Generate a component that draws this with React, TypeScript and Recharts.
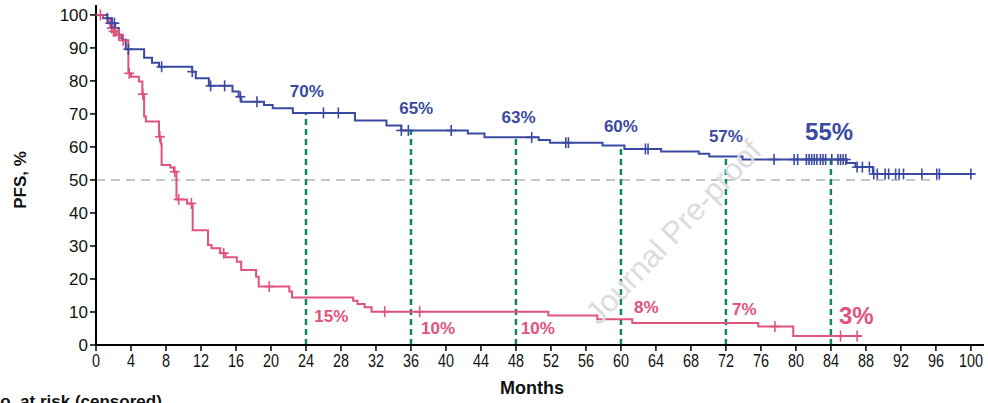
import React from 'react';
import {
  ComposedChart,
  Line,
  Scatter,
  XAxis,
  YAxis,
  ReferenceLine,
  ReferenceDot,
} from 'recharts';

const BLUE = '#3a4aa2';
const RED = '#e0537a';
const GREEN = '#13875a';
const FONT = '"Liberation Sans", Arial, Helvetica, sans-serif';

// Kaplan-Meier steps, [month, PFS %]
const blueSteps: [number, number][] = [
  [0, 100], [1.3, 99], [1.8, 97.5], [2.2, 96], [2.6, 94], [3.0, 92.5], [3.4, 89.6],
  [5.5, 87], [6.4, 85.5], [7.2, 84.3], [11.0, 82.8], [11.4, 80.8], [12.9, 78.5],
  [15.6, 76.8], [16.3, 75.2], [16.6, 73.7], [19.2, 72.7], [20.2, 71.7], [22.5, 70.3],
  [29.6, 68], [33.2, 66.5], [34.9, 65], [42.5, 64.1], [44.4, 62.9], [50.6, 62.1],
  [51.9, 61.3], [57.9, 60.4], [60.4, 59.4], [64.6, 58.6], [68.9, 57.9], [70.1, 57.1],
  [73.9, 56.2], [85.8, 55.1], [86.8, 53.9], [88.8, 51.8], [100.3, 51.8],
];
const blueCensored = [
  1.3, 1.8, 2.1, 3.7, 7.5, 11.0, 13.1, 14.7, 16.5, 18.4, 26.0, 27.7, 34.9, 35.7, 40.6,
  49.8, 53.7, 54.0, 62.8, 63.1, 77.5, 79.8, 80.2, 81.2, 81.5, 81.8, 82.1, 82.4, 82.8,
  83.1, 83.4, 84.1, 84.8, 85.1, 85.4, 85.7, 87.0, 87.6, 88.4, 88.9, 89.3, 90.2, 90.6,
  91.4, 91.8, 92.3, 94.4, 96.1, 96.4, 100.0,
];

const redSteps: [number, number][] = [
  [0, 100], [0.8, 99], [1.4, 97.5], [1.7, 96], [2.0, 95], [2.3, 94], [2.7, 93], [3.0, 92.3],
  [3.7, 82.3], [4.0, 81.3], [4.9, 79.8], [5.3, 76], [5.5, 69.2], [5.7, 67.7], [7.2, 63.1],
  [7.4, 61], [7.5, 54.5], [8.5, 53.8], [8.9, 52.5], [9.2, 44.1], [10.4, 42.9], [11.05, 34.8],
  [12.8, 30.3], [13.2, 29.3], [14.2, 27.8], [14.8, 26.6], [16.1, 25.2], [16.6, 22.7],
  [18.3, 20.7], [18.6, 17.7], [22.1, 16.2], [22.4, 14.4], [29.4, 13.4], [29.9, 12.4],
  [30.7, 11.4], [31.5, 10.1], [51.7, 8.9], [57.3, 7.8], [61.3, 6.7], [75.7, 5.6],
  [79.7, 2.7], [87.5, 2.7],
];
const redCensored = [
  0.5, 1.6, 1.8, 2.0, 2.2, 2.6, 3.1, 3.8, 5.35, 7.3, 9.0, 9.45, 10.9, 14.6, 19.8, 33, 37,
  77.6, 85.1, 87.0,
];

const landmarkMonths = [24, 36, 48, 60, 72, 84];
const blueLandmarkText = ['70%', '65%', '63%', '60%', '57%', '55%'];
const redLandmarkText = ['15%', '10%', '10%', '8%', '7%', '3%'];
// annotation anchors in data units [month, PFS %]
const blueLabelAt: [number, number][] = [
  [24.1, 76.7], [36.6, 71.5], [48.3, 68.8], [60.0, 66.1], [72.0, 63.3], [83.8, 64.7],
];
const redLabelAt: [number, number][] = [
  [26.9, 8.5], [39.1, 5.0], [50.5, 5.0], [62.9, 11.5], [74.1, 10.9], [86.9, 8.8],
];

const xTicks = [0, 4, 8, 12, 16, 20, 24, 28, 32, 36, 40, 44, 48, 52, 56, 60, 64, 68, 72, 76, 80, 84, 88, 92, 96, 100];
const yTicks = [0, 10, 20, 30, 40, 50, 60, 70, 80, 90, 100];

const valueAt = (steps: [number, number][], m: number) => {
  let v = steps[0][1];
  for (const [t, y] of steps) {
    if (t <= m) v = y;
    else break;
  }
  return v;
};

const blueLine = blueSteps.map(([m, v]) => ({ m, v }));
const redLine = redSteps.map(([m, v]) => ({ m, v }));
const blueMarks = blueCensored.map((m) => ({ m, v: valueAt(blueSteps, m) }));
const redMarks = redCensored.map((m) => ({ m, v: valueAt(redSteps, m) }));

const censorShape = (color: string) => (props: any) => {
  const { cx, cy } = props;
  return (
    <g stroke={color} strokeWidth={1.6}>
      <line x1={cx} x2={cx} y1={cy - 5.5} y2={cy + 5.5} />
      <line x1={cx - 5} x2={cx + 5} y1={cy} y2={cy} />
    </g>
  );
};

const XTick = (props: any) => {
  const { x, y, payload } = props;
  return (
    <g transform={`translate(${x},${y})`}>
      <text x={0} y={0} dy={14} textAnchor="middle" fontSize={18} fill="#111"
        fontFamily={FONT} transform="scale(0.8,1)">
        {payload.value}
      </text>
    </g>
  );
};

const pctLabel = (text: string, color: string, size: number) => (props: any) => {
  const { viewBox } = props;
  return (
    <text x={viewBox.x} y={viewBox.y} textAnchor="middle" dominantBaseline="central"
      fontSize={size} fontWeight="bold" fill={color} fontFamily={FONT}>
      {text}
    </text>
  );
};

const watermark = (props: any) => {
  const { viewBox } = props;
  return (
    <text x={viewBox.x} y={viewBox.y} textAnchor="middle" dominantBaseline="central"
      fontSize={31} fill="#dcdcdc" fontFamily={FONT}
      transform={`rotate(-46.6, ${viewBox.x}, ${viewBox.y})`}>
      Journal Pre-proof
    </text>
  );
};

export default function App() {
  return (
    <div style={{ position: 'absolute', left: 0, top: 0, width: 988, height: 403, overflow: 'hidden', background: '#fff' }}>
      <ComposedChart width={988} height={403} margin={{ top: 5, right: 4, left: 0, bottom: 0 }}>
        <XAxis
          dataKey="m"
          type="number"
          domain={[0, 101.5]}
          ticks={xTicks}
          interval={0}
          height={58}
          tick={<XTick />}
          tickSize={6}
          tickMargin={2}
          axisLine={{ stroke: '#000', strokeWidth: 2 }}
          tickLine={{ stroke: '#000', strokeWidth: 1.5 }}
          label={(p: any) => (
            <text x={p.viewBox.x + p.viewBox.width / 2 - 8} y={p.viewBox.y + 49} textAnchor="middle"
              fontSize={18} fontWeight="bold" fill="#111" fontFamily={FONT}>
              Months
            </text>
          )}
        />
        <YAxis
          dataKey="v"
          type="number"
          domain={[0, 103]}
          ticks={yTicks}
          interval={0}
          width={96}
          tickSize={6}
          tickMargin={2}
          tick={{ fontSize: 17, fill: '#111', fontFamily: FONT }}
          axisLine={{ stroke: '#000', strokeWidth: 2 }}
          tickLine={{ stroke: '#000', strokeWidth: 1.5 }}
          label={(p: any) => (
            <text x={20} y={p.viewBox.y + p.viewBox.height / 2 + 5} textAnchor="middle"
              dominantBaseline="central" fontSize={17} fontWeight="bold" fill="#111"
              fontFamily={FONT} transform={`rotate(-90, 20, ${p.viewBox.y + p.viewBox.height / 2 + 5})`}>
              PFS, %
            </text>
          )}
        />
        <ReferenceDot x={66.0} y={34.2} r={0} fill="none" stroke="none" label={watermark} />
        <ReferenceLine
          segment={[{ x: 0, y: 50 }, { x: 96.3, y: 50 }]}
          stroke="#c6c6c6"
          strokeWidth={2}
          strokeDasharray="9 6"
        />
        {landmarkMonths.map((m) => (
          <ReferenceLine
            key={`lm-${m}`}
            segment={[{ x: m, y: 0 }, { x: m, y: valueAt(blueSteps, m) }]}
            stroke={GREEN}
            strokeWidth={2.5}
            strokeDasharray="6 4"
          />
        ))}
        <Line data={redLine} dataKey="v" type="stepAfter" stroke={RED} strokeWidth={2}
          dot={false} activeDot={false} isAnimationActive={false} />
        <Line data={blueLine} dataKey="v" type="stepAfter" stroke={BLUE} strokeWidth={2}
          dot={false} activeDot={false} isAnimationActive={false} />
        <Scatter data={redMarks} dataKey="v" shape={censorShape(RED)} isAnimationActive={false} />
        <Scatter data={blueMarks} dataKey="v" shape={censorShape(BLUE)} isAnimationActive={false} />
        {blueLabelAt.map(([m, v], i) => (
          <ReferenceDot key={`bl-${i}`} x={m} y={v} r={0} fill="none" stroke="none"
            label={pctLabel(blueLandmarkText[i], BLUE, i === 5 ? 24 : 17)} />
        ))}
        {redLabelAt.map(([m, v], i) => (
          <ReferenceDot key={`rl-${i}`} x={m} y={v} r={0} fill="none" stroke="none"
            label={pctLabel(redLandmarkText[i], RED, i === 5 ? 24 : 17)} />
        ))}
      </ComposedChart>
      <div style={{ position: 'absolute', left: -12, top: 393, fontSize: 17, lineHeight: '17px',
        fontWeight: 'bold', fontFamily: FONT, color: '#111', whiteSpace: 'nowrap' }}>
        No. at risk (censored)
      </div>
    </div>
  );
}
